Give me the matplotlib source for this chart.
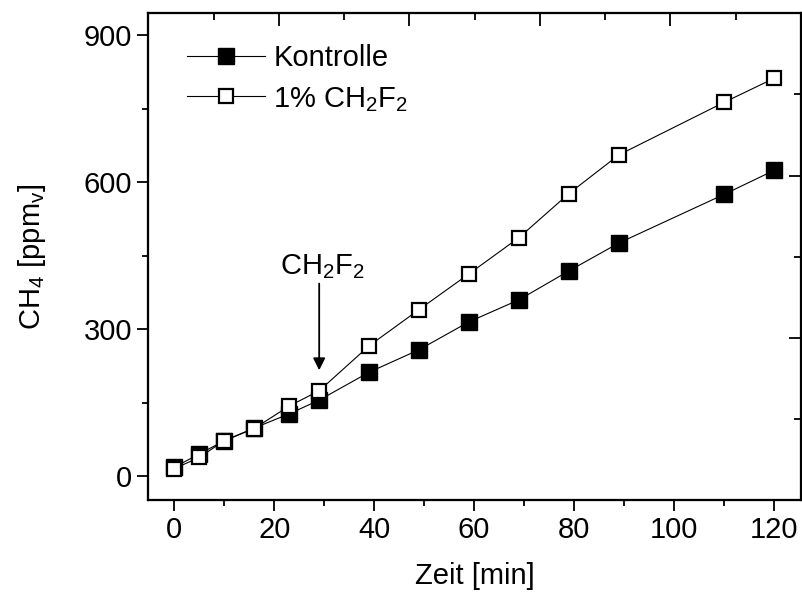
import numpy as np
import matplotlib
matplotlib.use("Agg")
import matplotlib.pyplot as plt
from matplotlib.ticker import MultipleLocator, NullFormatter

plt.rcParams['font.family'] = ['Liberation Sans', 'DejaVu Sans']

# sampling times [min]
zeit = [0, 5, 10, 16, 23, 29, 39, 49, 59, 69, 79, 89, 110, 120]
# CH4 concentrations [ppmv]
kontrolle = [18, 45, 72, 98, 127, 155, 212, 258, 315, 360, 419, 476, 575, 624]
ch2f2 = [15, 38, 72, 97, 143, 174, 266, 340, 413, 487, 577, 656, 763, 812]

fs = 21

fig = plt.figure(figsize=(8.03, 5.92), dpi=100)
ax = fig.add_axes([0.1847, 0.1554, 0.8126, 0.8221])

ax.plot(zeit, kontrolle, '-s', color='black', lw=0.8, ms=11,
        mfc='black', mec='black', label='Kontrolle')
ax.plot(zeit, ch2f2, '-s', color='black', lw=0.8, ms=10.5,
        mfc='white', mec='black', mew=1.6,
        label=r'1% CH$\mathregular{_2}$F$\mathregular{_2}$')

ax.set_xlim(-5.2, 125.4)
ax.set_ylim(-49, 945)
ax.xaxis.set_major_locator(MultipleLocator(20))
ax.xaxis.set_minor_locator(MultipleLocator(10))
ax.yaxis.set_major_locator(MultipleLocator(300))
ax.yaxis.set_minor_locator(MultipleLocator(150))
ax.tick_params(which='both', direction='out', width=1.3, labelsize=fs,
               top=False, right=False)
ax.tick_params(which='major', length=8)
ax.tick_params(which='minor', length=4.5)
for s in ax.spines.values():
    s.set_linewidth(1.5)

ax.set_xlabel('Zeit [min]', fontsize=fs, labelpad=13)
ax.set_ylabel(r'CH$\mathregular{_4}$ [ppm$\mathregular{_v}$]', fontsize=fs, labelpad=26)

# independent tick marks on the top and right frame
top = ax.twiny()
top.set_xlim(0, 1)
top.xaxis.set_major_locator(MultipleLocator(0.2))
top.xaxis.set_minor_locator(MultipleLocator(0.1))
top.xaxis.set_major_formatter(NullFormatter())
top.tick_params(which='both', direction='in', width=1.3)
top.tick_params(which='major', length=9)
top.tick_params(which='minor', length=5)

right = ax.twinx()
right.set_ylim(0, 6)
right.yaxis.set_major_locator(MultipleLocator(2))
right.yaxis.set_minor_locator(MultipleLocator(1))
right.yaxis.set_major_formatter(NullFormatter())
right.tick_params(which='both', direction='in', width=1.3)
right.tick_params(which='major', length=9)
right.tick_params(which='minor', length=5)
for a in (top, right):
    for s in a.spines.values():
        s.set_linewidth(1.5)

# injection marker
ax.annotate('', xy=(29, 216), xytext=(29, 393),
            arrowprops=dict(arrowstyle='-|>', color='black', lw=1.3,
                            mutation_scale=18, shrinkA=0, shrinkB=0))
ax.text(29.6, 428, r'CH$\mathregular{_2}$F$\mathregular{_2}$',
        ha='center', va='center', fontsize=fs)

leg = ax.legend(loc='upper left', bbox_to_anchor=(0.042, 0.96),
                frameon=False, fontsize=fs, handlelength=2.65,
                handletextpad=0.3, labelspacing=0.42, borderaxespad=0,
                numpoints=1)

fig.savefig('out.png', dpi=100)
